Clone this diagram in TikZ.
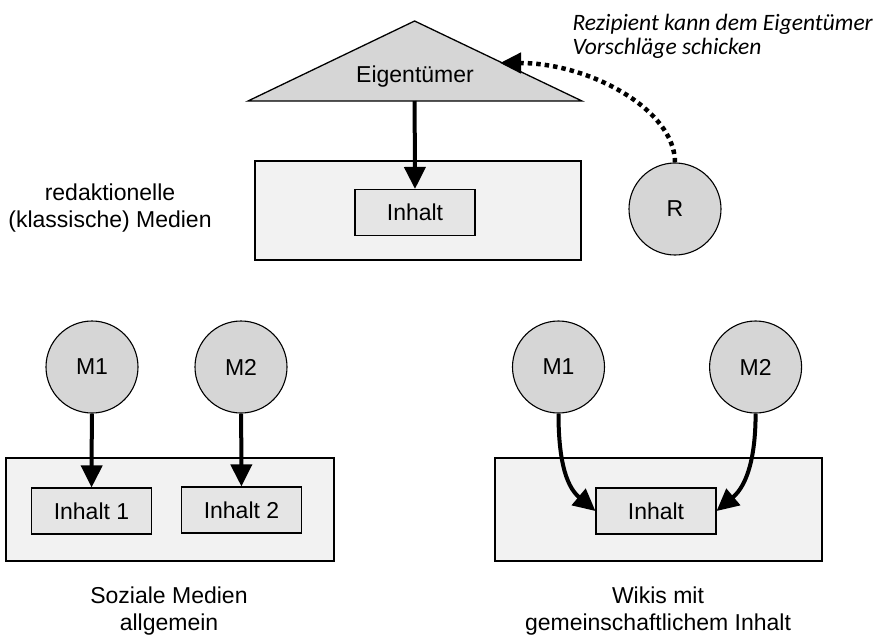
\documentclass[tikz,border=0pt]{standalone}
\usepackage{fontspec}
\setmainfont{Liberation Sans}
\newfontfamily\notefont{Carlito}
\usetikzlibrary{arrows.meta,positioning}
\tikzset{medium/.style={draw,circle,fill=black!16,minimum size=92pt,inner
sep=0pt,line width=1.1pt},content/.style={draw,fill=black!10,minimum
width=120pt,minimum height=46pt,inner sep=0pt,line width=1.1pt},frame/.style={draw,
fill=black!5,line width=1.1pt},push/.style={-{Triangle[length=22pt,width=21pt]},line
width=4pt},caption/.style={align=center,font=\fontsize{23}{27}\selectfont}}

\begin{document}
\begin{tikzpicture}[x=1pt,y=1pt,font=\fontsize{23}{27}\selectfont]
	\useasboundingbox (0,0) rectangle (873,-635);
	% redaktionelle Medien
	\draw[frame] (255,-161) rectangle (581,-260);
	\draw[fill=black!16,line width=1.3pt] (248,-101) -- (414.6,-21) -- (582,-101) -- cycle;
	\node (owner) at (415,-77) {Eigentümer};
	\coordinate (base) at (414.6,-101);
	\coordinate (side) at (500,-63);
	\node[content] (text0) at (415,-212.5) {Inhalt};
	\node[medium] (r) at (675,-209) {R};
	\node[caption] (lbl0) at (110,-208) {redaktionelle\\(klassische) Medien};
	\node[anchor=north west,align=left,font=\notefont\itshape\fontsize{23.5}{24}\selectfont]
		(note) at (569,-11) {Rezipient kann dem Eigentümer\\Vorschläge schicken};
	\draw[push] (base) -- (text0.north);
	\draw[-{Triangle[length=21pt,width=20pt]},line width=4.5pt,dash pattern=on 4.5pt off 4pt]
		(r.north) .. controls (675,-110) and (590,-63) .. (side);
	% Soziale Medien
	\draw[frame] (6,-458) rectangle (334,-561);
	\node[medium] (m1) at (92,-367) {M1};
	\node[medium] (m2) at (241,-367) {M2};
	\node[content] (text1) at (91.5,-511) {Inhalt 1};
	\node[content] (text2) at (241.5,-510) {Inhalt 2};
	\draw[push] (m1) -- (text1);
	\draw[push] (m2) -- (text2);
	\node[caption] (lbl1) at (169,-611) {Soziale Medien\\allgemein};
	% Wikis
	\draw[frame] (495,-458) rectangle (822,-561);
	\node[medium] (m3) at (558.5,-367) {M1};
	\node[medium] (m4) at (755.6,-367) {M2};
	\node[content] (text3) at (656,-511) {Inhalt};
	\draw[push] (m3.south) to[out=-90,in=140] (text3.west);
	\draw[push] (m4.south) to[out=-90,in=40] (text3.east);
	\node[caption] (lbl2) at (658,-611) {Wikis mit\\gemeinschaftlichem Inhalt};
\end{tikzpicture}
\end{document}
